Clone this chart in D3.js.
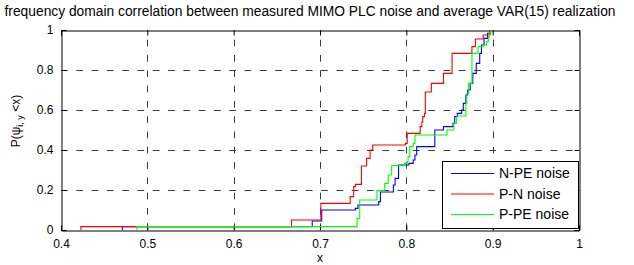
<!DOCTYPE html>
<html lang="en">
<head>
    <meta charset="UTF-8">
    <title>frequency domain correlation</title>
    <script src="https://d3js.org/d3.v7.min.js"></script>
    <style>
        body { margin: 0; background: #fff; }
        svg text { font-family: "Liberation Sans", Arial, sans-serif; fill: #000; }
        .grid line { stroke: #3a3a3a; stroke-width: 1; stroke-dasharray: 6.7 8.6; }
        .line { fill: none; stroke-width: 1.1; }
    </style>
</head>
<body>
<svg id="chart" width="634" height="265"></svg>

<script>
    // step points [x, P(after the step)]
    const npeSteps = [[0.471,0.017],[0.691,0.045],[0.702,0.1],[0.741,0.108],[0.744,0.125],[0.768,0.142],
        [0.770,0.19],[0.785,0.225],[0.787,0.258],[0.791,0.325],[0.803,0.333],[0.808,0.35],[0.810,0.375],
        [0.812,0.417],[0.833,0.5],[0.843,0.517],[0.854,0.533],[0.856,0.567],[0.859,0.583],[0.864,0.6],
        [0.866,0.633],[0.869,0.675],[0.871,0.7],[0.874,0.733],[0.877,0.783],[0.881,0.833],[0.885,0.883],
        [0.887,0.925],[0.890,0.958],[0.894,0.983],[0.897,1.0]];
    const pnSteps = [[0.423,0.017],[0.667,0.05],[0.701,0.133],[0.735,0.167],[0.739,0.217],[0.741,0.228],
        [0.748,0.32],[0.754,0.358],[0.758,0.4],[0.761,0.425],[0.799,0.433],[0.801,0.483],[0.816,0.517],
        [0.818,0.54],[0.819,0.567],[0.821,0.583],[0.822,0.69],[0.829,0.733],[0.843,0.783],[0.853,0.883],
        [0.876,0.917],[0.880,0.955],[0.889,0.975],[0.897,1.0]];
    const ppeSteps = [[0.488,0.017],[0.743,0.058],[0.746,0.15],[0.766,0.197],[0.775,0.233],[0.779,0.275],
        [0.783,0.322],[0.798,0.333],[0.801,0.342],[0.802,0.367],[0.804,0.417],[0.808,0.433],[0.810,0.475],
        [0.847,0.5],[0.855,0.533],[0.858,0.57],[0.869,0.633],[0.870,0.683],[0.872,0.733],[0.876,0.883],
        [0.883,0.917],[0.889,0.925],[0.893,0.942],[0.895,0.967],[0.896,0.983],[0.898,1.0]];

    const seriesNames = ["N-PE noise", "P-N noise", "P-PE noise"];
    const seriesColors = ["#0000ff", "#ff0000", "#00ff00"];
    const xTicks = [0.4, 0.5, 0.6, 0.7, 0.8, 0.9, 1];
    const yTicks = [0, 0.2, 0.4, 0.6, 0.8, 1];
    const titleText = "frequency domain correlation between measured MIMO PLC noise and average VAR(15) realization";

    const plotL = 61, plotR = 579, plotT = 30, plotB = 230;

    const x = d3.scaleLinear().domain([0.4, 1]).range([plotL, plotR]);
    const y = d3.scaleLinear().domain([0, 1]).range([plotB, plotT]);

    const svg = d3.select("#chart");

    // grid (vertical drawn bottom-up, horizontal left-right, like the dash phase in the reference)
    const grid = svg.append("g").attr("class", "grid");
    grid.selectAll(".vx").data(xTicks.slice(1, -1)).join("line")
        .attr("class", "vx")
        .attr("x1", d => Math.round(x(d)) + 0.5).attr("x2", d => Math.round(x(d)) + 0.5)
        .attr("y1", plotB).attr("y2", plotT);
    grid.selectAll(".hy").data(yTicks.slice(1, -1)).join("line")
        .attr("class", "hy")
        .attr("x1", plotL).attr("x2", plotR)
        .attr("y1", d => Math.round(y(d)) + 0.5).attr("y2", d => Math.round(y(d)) + 0.5);

    // axes, ticks inside, box on
    const fmt = d => d3.format("")(d);
    svg.append("g")
        .attr("transform", `translate(0,${plotB + 0.5})`)
        .call(d3.axisBottom(x).tickValues(xTicks).tickSize(-5).tickPadding(9).tickFormat(fmt))
        .call(g => g.selectAll("text").attr("font-size", 12));
    svg.append("g")
        .attr("transform", `translate(0,${plotT + 0.5})`)
        .call(d3.axisTop(x).tickValues(xTicks).tickSize(-5).tickFormat(""));
    svg.append("g")
        .attr("transform", `translate(${plotL + 0.5},0)`)
        .call(d3.axisLeft(y).tickValues(yTicks).tickSize(-5).tickPadding(8).tickFormat(fmt))
        .call(g => g.selectAll("text").attr("font-size", 12));
    svg.append("g")
        .attr("transform", `translate(${plotR + 0.5},0)`)
        .call(d3.axisRight(y).tickValues(yTicks).tickSize(-5).tickFormat(""));
    svg.selectAll(".domain").attr("stroke", "#000");
    svg.selectAll(".tick line").attr("stroke", "#000");
    svg.selectAll(".tick text").attr("font-family", "Liberation Sans, Arial, sans-serif");

    // curves
    const line = d3.line()
        .x(d => x(d[0]))
        .y(d => y(d[1]))
        .curve(d3.curveStepAfter);
    [npeSteps, pnSteps, ppeSteps].forEach((steps, i) => {
        const pts = [[steps[0][0], 0]].concat(steps);
        svg.append("path")
            .datum(pts)
            .attr("class", "line")
            .attr("stroke", seriesColors[i])
            .attr("d", line);
    });

    // legend
    const lg = svg.append("g").attr("transform", "translate(442,161)");
    lg.append("rect").attr("x", 0.5).attr("y", 0.5).attr("width", 136).attr("height", 67)
        .attr("fill", "#fff").attr("stroke", "#000");
    seriesNames.forEach((name, i) => {
        const ry = 12.5 + i * 20.5;
        lg.append("line").attr("x1", 9).attr("x2", 52).attr("y1", ry).attr("y2", ry)
            .attr("stroke", seriesColors[i]).attr("stroke-width", 1.1);
        lg.append("text").attr("x", 57).attr("y", ry).attr("dy", "0.35em")
            .attr("font-size", 14).text(name);
    });

    // title and labels
    svg.append("text").attr("x", 310).attr("y", 16).attr("text-anchor", "middle")
        .attr("font-size", 13.8).text(titleText);
    svg.append("text").attr("x", (plotL + plotR) / 2).attr("y", 262).attr("text-anchor", "middle")
        .attr("font-size", 12).text("x");
    const yl = svg.append("text")
        .attr("transform", "translate(20,121) rotate(-90)")
        .attr("text-anchor", "middle").attr("font-size", 12);
    yl.append("tspan").text("P(\u03c8");
    yl.append("tspan").attr("font-size", 9).attr("dy", 3).text("i, y");
    yl.append("tspan").attr("dy", -3).text(" <x)");
</script>
</body>
</html>
